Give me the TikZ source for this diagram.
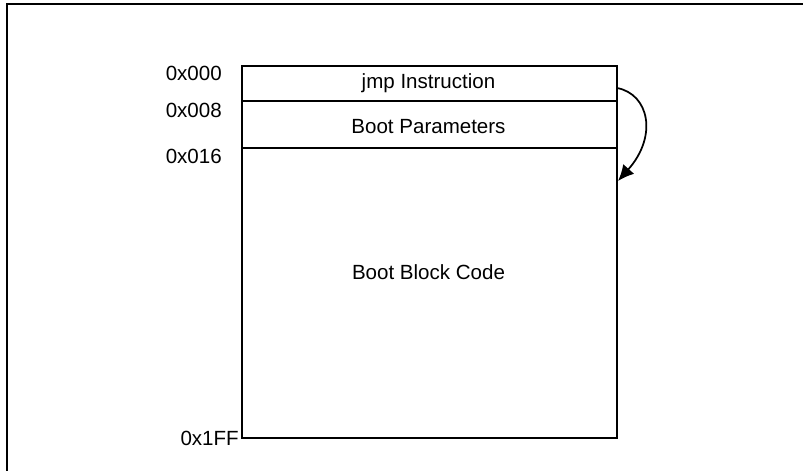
\documentclass[tikz,border=0pt]{standalone}
\usepackage{fontspec}
\setmainfont{Liberation Sans}
\usetikzlibrary{arrows.meta}
\begin{document}
\begin{tikzpicture}[x=0.75pt,y=-0.75pt,
  txt/.style={font=\fontsize{15.4}{18}\selectfont},
  sect/.style={draw,line width=1.3pt,rectangle,anchor=north west,minimum width=375*0.75pt,inner sep=0pt,txt},
  addr/.style={anchor=base east,inner sep=0pt,txt}]
\useasboundingbox (0,0) rectangle (803,471);
\draw[line width=1.5pt] (7,471) -- (7,4) -- (803,4);
\node[sect,minimum height=35*0.75pt] (jmp) at (241,65) {};
\node[sect,minimum height=47*0.75pt] (par) at (241,100) {};
\node[sect,minimum height=290*0.75pt] (code) at (241,147) {};
\node[txt] (tjmp) at (428.5,83) {jmp Instruction};
\node[txt] (tpar) at (428.5,127) {Boot Parameters};
\node[txt] (tcode) at (428.5,272) {Boot Block Code};
\node[addr] (a0) at (222,80) {0x000};
\node[addr] (a1) at (222,117) {0x008};
\node[addr] (a2) at (222,163) {0x016};
\node[addr] (a3) at (239,445) {0x1FF};
\coordinate (s) at (617,88);
\coordinate (e) at (618,181);
\draw[line width=1.3pt,-{Latex[length=12pt,width=11pt]}] (s) .. controls +(32,6) and +(40,-45) .. (e);
\end{tikzpicture}
\end{document}
